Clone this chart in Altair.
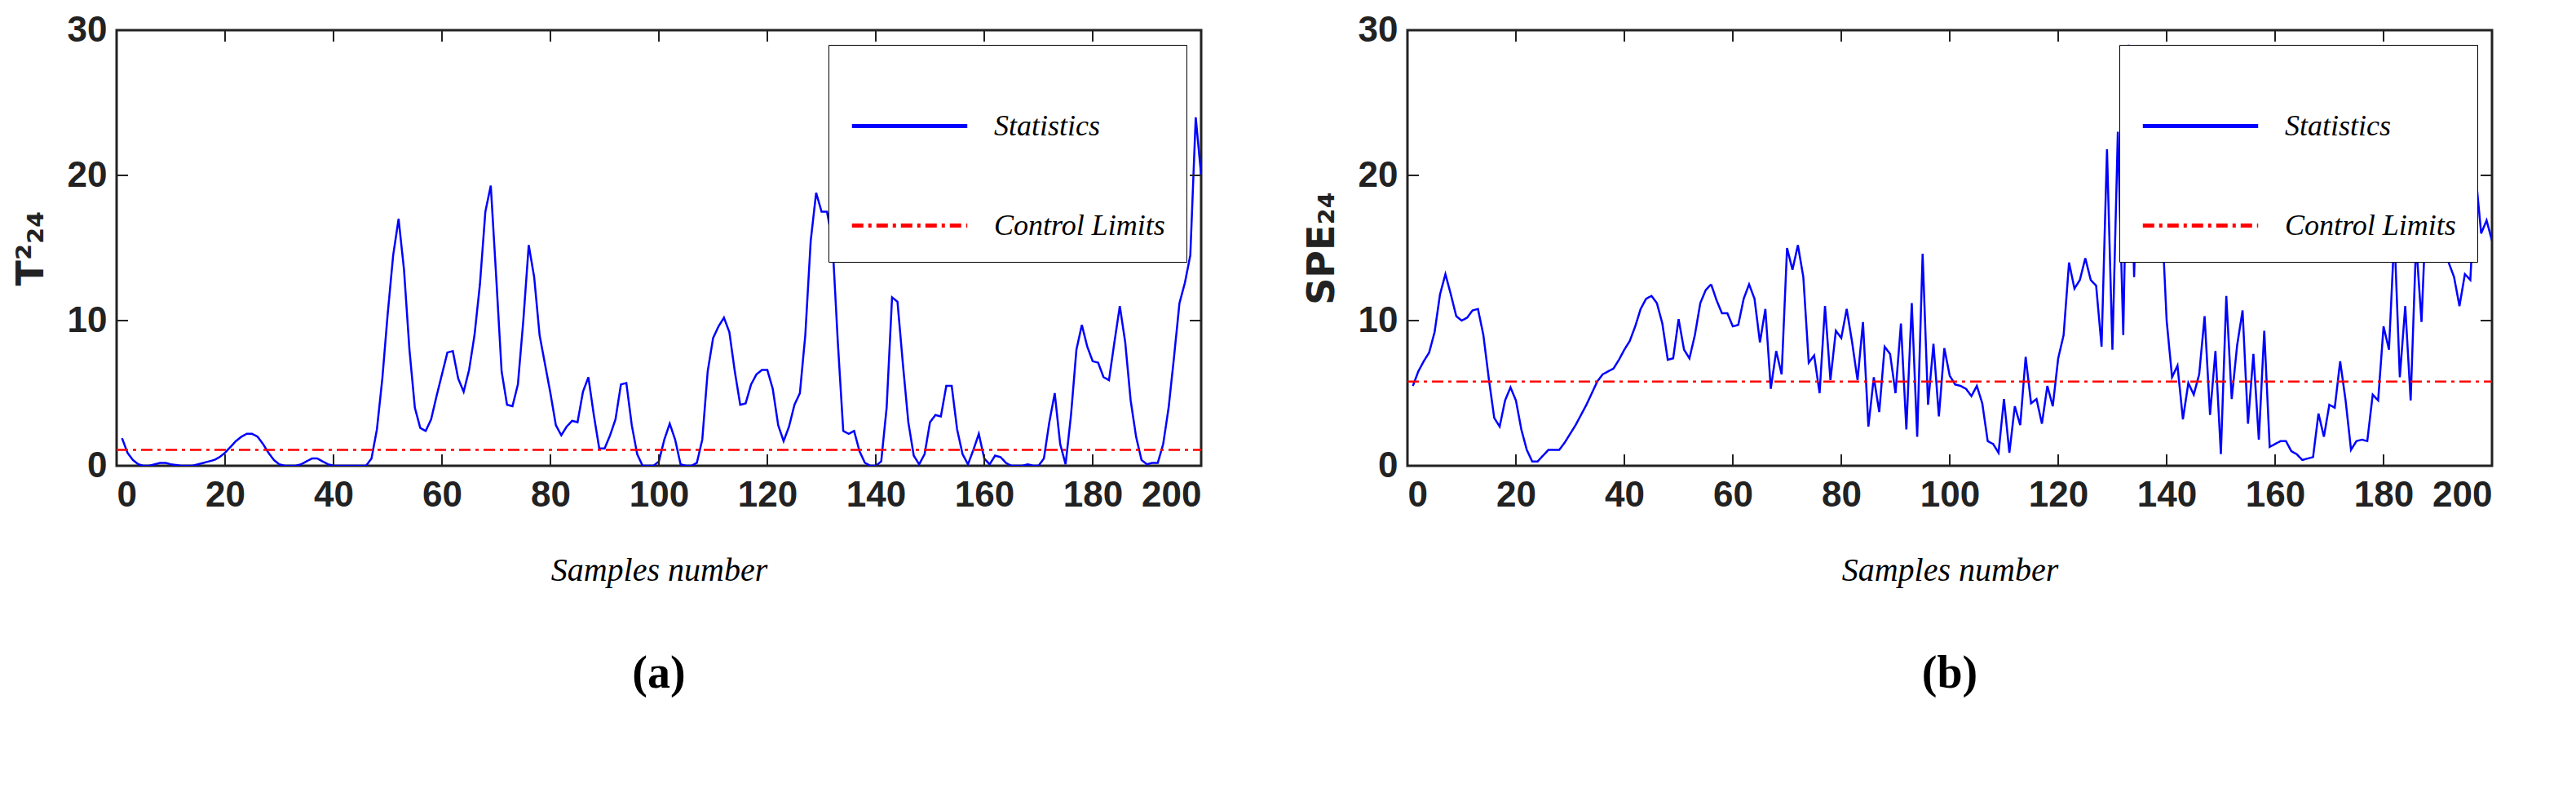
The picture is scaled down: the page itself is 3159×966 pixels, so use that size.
import altair as alt
import pandas as pd

samples = list(range(1, 201))

t2_values = [
    1.9, 0.9, 0.4, 0.1, 0, 0, 0.1, 0.2, 0.2, 0.1,
    0.05, 0, 0, 0, 0.1, 0.2, 0.3, 0.4, 0.6, 0.9,
    1.3, 1.7, 2.0, 2.2, 2.2, 2.0, 1.5, 0.9, 0.4, 0.1,
    0, 0, 0, 0.1, 0.3, 0.5, 0.5, 0.3, 0.1, 0,
    0, 0, 0, 0, 0, 0, 0.5, 2.5, 6, 10.5,
    14.5, 17, 13.5, 8, 4, 2.6, 2.4, 3.2, 4.8, 6.3,
    7.8, 7.9, 6, 5.1, 6.6, 9, 12.5, 17.5, 19.3, 13,
    6.5, 4.2, 4.1, 5.6, 10, 15.2, 13, 9, 7, 5,
    2.8, 2.1, 2.7, 3.1, 3, 5.1, 6.1, 3.5, 1.2, 1.2,
    2.1, 3.2, 5.6, 5.7, 2.8, 0.8, 0, 0, 0, 0.3,
    1.8, 2.9, 1.8, 0.1, 0, 0, 0.2, 1.8, 6.5, 8.8,
    9.6, 10.2, 9.2, 6.5, 4.2, 4.3, 5.6, 6.3, 6.6, 6.6,
    5.3, 2.8, 1.7, 2.7, 4.2, 5.0, 9, 15.5, 18.8, 17.5,
    17.5, 15.5, 8.5, 2.4, 2.2, 2.4, 1, 0.2, 0, 0,
    0.3, 4, 11.6, 11.3, 7, 3, 0.7, 0.1, 0.8, 3,
    3.5, 3.4, 5.5, 5.5, 2.5, 0.8, 0.1, 1.1, 2.2, 0.5,
    0.1, 0.7, 0.6, 0.2, 0, 0, 0, 0.1, 0, 0,
    0.5, 3, 5, 1.5, 0.1, 3.5, 8, 9.7, 8.2, 7.2,
    7.1, 6.1, 5.9, 8.5, 11, 8.5, 4.5, 2, 0.4, 0.1,
    0.2, 0.2, 1.5, 4, 7.5, 11.2, 12.6, 14.5, 24, 20,
]

spe_values = [
    5.5, 6.5, 7.2, 7.8, 9.2, 11.8, 13.2, 11.8, 10.3, 10,
    10.2, 10.7, 10.8, 9, 6, 3.3, 2.7, 4.5, 5.4, 4.5,
    2.5, 1.1, 0.3, 0.3, 0.7, 1.1, 1.1, 1.1, 1.6, 2.2,
    2.8, 3.5, 4.2, 5.0, 5.8, 6.3, 6.5, 6.7, 7.3, 8,
    8.6, 9.6, 10.8, 11.5, 11.7, 11.2, 9.8, 7.3, 7.4, 10.1,
    8, 7.4, 9, 11.2, 12.1, 12.5, 11.4, 10.5, 10.5, 9.6,
    9.7, 11.5, 12.5, 11.5, 8.5, 10.8, 5.3, 7.9, 6.3, 15,
    13.5, 15.2, 13, 7.1, 7.6, 5, 11, 5.9, 9.3, 8.8,
    10.8, 8.5, 5.9, 9.9, 2.7, 6.1, 3.7, 8.2, 7.7, 5,
    9.8, 2.5, 11.2, 2, 14.6, 4.2, 8.4, 3.4, 8.1, 6.2,
    5.6, 5.5, 5.3, 4.8, 5.5, 4.3, 1.7, 1.5, 0.9, 4.6,
    0.9, 4.1, 2.8, 7.5, 4.3, 4.6, 2.9, 5.5, 4.1, 7.4,
    9, 14, 12.2, 12.8, 14.3, 12.8, 12.4, 8.2, 21.8, 8,
    23, 9, 29, 13, 27, 14.3, 24, 21, 18, 10,
    6.1, 6.9, 3.2, 5.7, 4.9, 6.3, 10.3, 3.5, 7.9, 0.8,
    11.7, 4.6, 8.3, 10.7, 2.9, 7.7, 1.8, 9.3, 1.3, 1.5,
    1.7, 1.7, 1, 0.8, 0.4, 0.5, 0.6, 3.6, 2, 4.2,
    4, 7.2, 4.5, 1.1, 1.7, 1.8, 1.7, 4.9, 4.5, 9.6,
    8, 16, 6.1, 11, 4.5, 15.4, 9.9, 19, 22, 23,
    19.5, 14, 13, 11, 13.2, 12.8, 20, 16, 16.9, 15.5,
]

t2_limit = 1.1
spe_limit = 5.8
x_ticks = [0, 20, 40, 60, 80, 100, 120, 140, 160, 180, 200]
y_ticks = [0, 10, 20, 30]
series_names = ["Statistics", "Control Limits"]

W, H = 1330, 534


def panel(values, limit, ytitle, label):
    df = pd.concat([
        pd.DataFrame({"x": samples, "y": values, "series": "Statistics"}),
        pd.DataFrame({"x": [0, 200], "y": [limit, limit], "series": "Control Limits"}),
    ])
    legend = alt.Legend(orient="top-right", offset=18, strokeColor="#000000",
                        fillColor="#ffffff", padding=26, labelFont="Liberation Serif",
                        labelFontStyle="italic", labelFontSize=36, labelColor="#000000",
                        labelLimit=0, symbolType="stroke", symbolSize=20000,
                        symbolStrokeWidth=5, rowPadding=30, labelOffset=30, title=None)
    lines = alt.Chart(df).mark_line(strokeWidth=2.5, clip=True).encode(
        x=alt.X("x:Q", scale=alt.Scale(domain=[0, 200], nice=False),
                axis=alt.Axis(values=x_ticks, title="Samples number", grid=False,
                              ticks=False, labelPadding=14, titlePadding=50)),
        y=alt.Y("y:Q", scale=alt.Scale(domain=[0, 30], nice=False),
                axis=alt.Axis(values=y_ticks, title=ytitle, grid=False,
                              ticks=False, labelPadding=12, titlePadding=20)),
        color=alt.Color("series:N", legend=legend,
                        scale=alt.Scale(domain=series_names, range=["#0000ff", "#ff0000"])),
        strokeDash=alt.StrokeDash("series:N", legend=legend,
                                  scale=alt.Scale(domain=series_names,
                                                  range=[[1, 0], [14, 6, 4, 6]])),
    )
    xt = pd.DataFrame({"t": x_ticks})
    yt = pd.DataFrame({"t": y_ticks})
    tick_style = dict(color="#222222", strokeWidth=2)
    xb = alt.Chart(xt).mark_rule(**tick_style).encode(x="t:Q", y=alt.value(H), y2=alt.value(H - 14))
    xtop = alt.Chart(xt).mark_rule(**tick_style).encode(x="t:Q", y=alt.value(0), y2=alt.value(14))
    yl = alt.Chart(yt).mark_rule(**tick_style).encode(y="t:Q", x=alt.value(0), x2=alt.value(14))
    yr = alt.Chart(yt).mark_rule(**tick_style).encode(y="t:Q", x=alt.value(W), x2=alt.value(W - 14))
    return alt.layer(lines, xb, xtop, yl, yr).properties(
        width=W, height=H,
        title=alt.TitleParams(label, orient="bottom", font="Liberation Serif",
                              fontSize=56, fontWeight="bold", offset=80),
    )


left = panel(t2_values, t2_limit, "T²₂₄", "(a)")
right = panel(spe_values, spe_limit, "SPE₂₄", "(b)")

chart = alt.hconcat(left, right, spacing=120).resolve_scale(
    color="independent", strokeDash="independent"
).resolve_legend(
    color="independent", strokeDash="independent"
).configure_view(
    stroke="#222222", strokeWidth=3
).configure_axis(
    labelFont="Liberation Sans", labelFontWeight="bold", labelFontSize=44,
    labelColor="#222222", domain=False,
).configure_axisY(
    titleFont="DejaVu Sans", titleFontWeight="bold", titleColor="#222222", titleFontSize=46,
).configure_axisX(
    titleFont="Liberation Serif", titleFontStyle="italic", titleFontWeight="normal",
    titleFontSize=40, titleColor="#000000",
)

chart.save("out.html", embed_options={"renderer": "svg", "actions": False})
